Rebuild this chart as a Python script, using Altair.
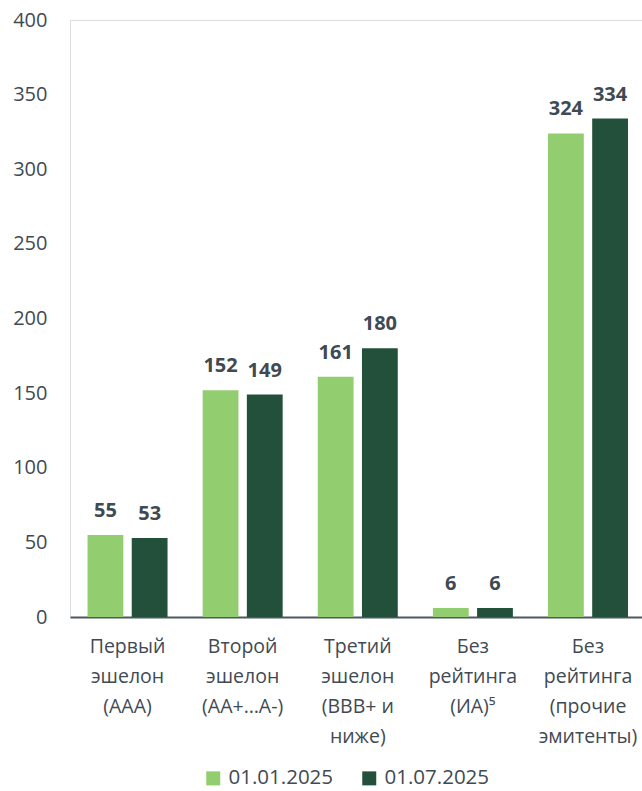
import altair as alt
import pandas as pd

# Категории (многострочные подписи разделены символом "|")
categories = [
    "Первый|эшелон|(AAA)",
    "Второй|эшелон|(AA+…A-)",
    "Третий|эшелон|(BBB+ и|ниже)",
    "Без|рейтинга|(ИА)⁵",
    "Без|рейтинга|(прочие|эмитенты)",
]
series = ["01.01.2025", "01.07.2025"]
values_jan = [55, 152, 161, 6, 324]
values_jul = [53, 149, 180, 6, 334]
colors = ["#92CD6F", "#22503A"]

rows = []
for i, cat in enumerate(categories):
    rows.append({"cat": cat, "date": series[0], "value": values_jan[i]})
    rows.append({"cat": cat, "date": series[1], "value": values_jul[i]})
df = pd.DataFrame(rows)

text_color = "#3F4A53"
font = "Open Sans"

x_enc = alt.X(
    "cat:N",
    sort=categories,
    title=None,
    scale=alt.Scale(paddingInner=0.305, paddingOuter=0.137, align=0.556),
    axis=alt.Axis(
        labelAngle=0,
        labelExpr="split(datum.label, '|')",
        labelFontSize=19.5,
        labelLineHeight=30,
        labelColor=text_color,
        labelPadding=20,
        labelFont=font,
        labelBaseline="top",
        labelLimit=200,
        ticks=False,
        grid=False,
        domain=True,
        domainColor="#4E5860",
        domainWidth=2,
    ),
)
y_enc = alt.Y(
    "value:Q",
    title=None,
    scale=alt.Scale(domain=[0, 400], nice=False),
    axis=alt.Axis(
        values=[0, 50, 100, 150, 200, 250, 300, 350, 400],
        labelFontSize=20,
        labelColor=text_color,
        labelFont=font,
        labelPadding=23,
        ticks=False,
        domain=False,
        grid=False,
    ),
)

# Общие позиционные каналы для столбцов и подписей
base = alt.Chart(df).encode(
    x=x_enc,
    xOffset=alt.XOffset(
        "date:N", sort=series, scale=alt.Scale(paddingInner=0.19, paddingOuter=0)
    ),
    y=y_enc,
)

bars = base.mark_bar().encode(
    color=alt.Color(
        "date:N",
        sort=series,
        scale=alt.Scale(domain=series, range=colors),
        title=None,
        legend=alt.Legend(
            orient="none",
            legendX=133,
            legendY=748,
            direction="horizontal",
            symbolType="square",
            symbolSize=196,
            symbolStrokeWidth=0,
            labelFontSize=20.5,
            labelColor=text_color,
            labelFont=font,
            labelOffset=5,
            columnPadding=25,
        ),
    ),
)

labels = base.mark_text(
    fontSize=20, fontWeight="bold", color=text_color, font=font,
    baseline="alphabetic", dy=-18,
).encode(text="value:Q")

chart = (
    alt.layer(bars, labels)
    .properties(
        width=572,
        height=597,
        autosize=alt.AutoSizeParams(type="none"),
        padding={"left": 70, "top": 20, "right": 0, "bottom": 174},
    )
    .configure_view(strokeWidth=0, strokeOpacity=0)
    .configure_axis(domain=False, ticks=False, grid=False)
    .configure(background="#FFFFFF")
)

chart.save("out.html", embed_options={"renderer": "svg", "actions": False})
